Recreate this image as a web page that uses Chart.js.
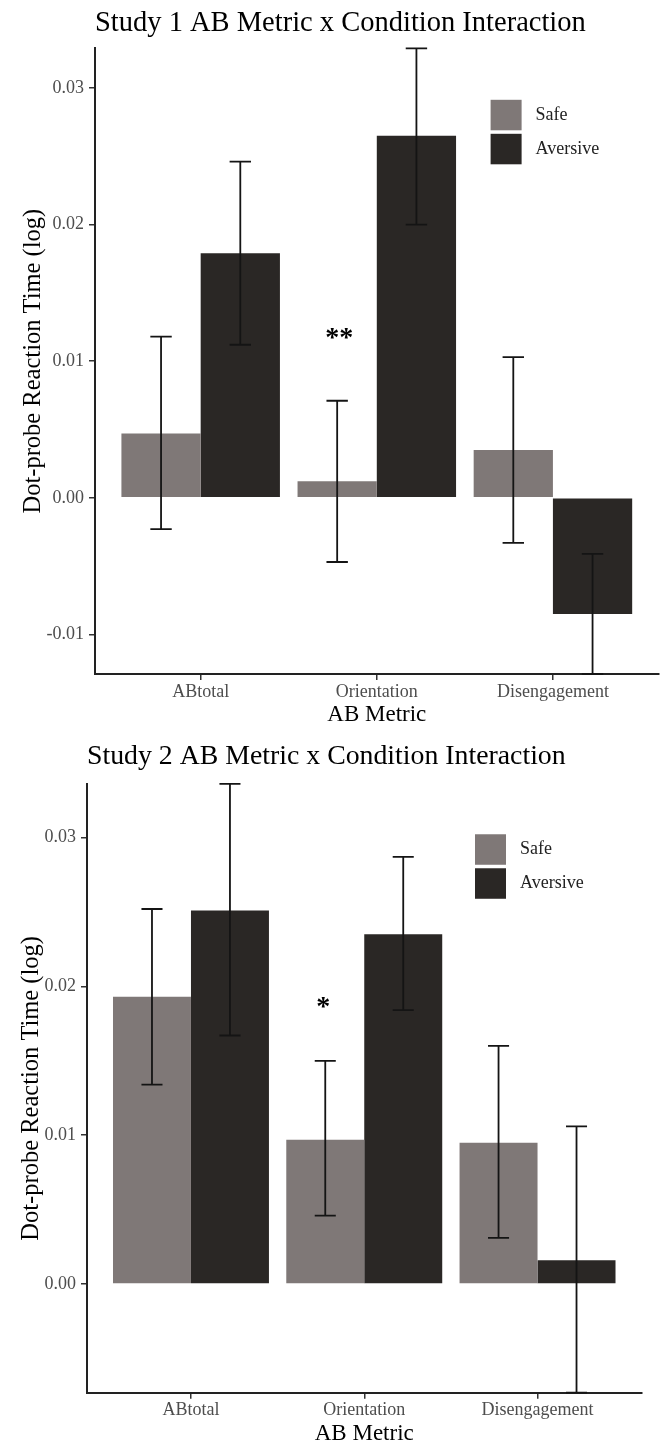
<!DOCTYPE html>
<html>
<head>
<meta charset="utf-8">
<script src="https://cdn.jsdelivr.net/npm/chart.js@4.4.1/dist/chart.umd.min.js"></script>
<style>
html, body { margin: 0; padding: 0; background: #ffffff; width: 666px; height: 1443px; overflow: hidden; }
canvas { position: absolute; left: 0; }
#c1 { top: 0px; }
#c2 { top: 720px; }
</style>
</head>
<body>
<canvas id="c1" width="666" height="735"></canvas>
<canvas id="c2" width="666" height="735"></canvas>
<script>
// ---------- data ----------
const categories = ['ABtotal', 'Orientation', 'Disengagement'];
const seriesNames = ['Safe', 'Aversive'];
const yTickValues = [-0.01, 0.00, 0.01, 0.02, 0.03];

const study1Title = 'Study 1 AB Metric x Condition Interaction';
const study1Safe = [0.0047, 0.0012, 0.0035];
const study1Aversive = [0.0179, 0.0265, -0.0085];
const study1SafeLow = [-0.0023, -0.0047, -0.0033];
const study1SafeHigh = [0.0118, 0.0071, 0.0103];
const study1AversiveLow = [0.0112, 0.0200, -0.0129];
const study1AversiveHigh = [0.0246, 0.0329, -0.0041];
const study1Sig = ['', '**', ''];
const study1SigY = [null, 0.0120, null];

const study2Title = 'Study 2 AB Metric x Condition Interaction';
const study2Safe = [0.0193, 0.0097, 0.0095];
const study2Aversive = [0.0251, 0.0235, 0.0016];
const study2SafeLow = [0.0134, 0.0046, 0.0031];
const study2SafeHigh = [0.0252, 0.0150, 0.0160];
const study2AversiveLow = [0.0167, 0.0184, -0.0073];
const study2AversiveHigh = [0.0336, 0.0287, 0.0106];
const study2Sig = ['', '*', ''];
const study2SigY = [null, 0.0189, null];

const xAxisTitle = 'AB Metric';
const yAxisTitle = 'Dot-probe Reaction Time (log)';

// ---------- styles ----------
const SERIF = '"Liberation Serif", "Times New Roman", serif';
const SAFE_COLOR = '#7f7877';
const AVERSIVE_COLOR = '#2a2725';
const INK = '#141414';
const TICK_TEXT = '#4d4d4d';

function buildChart(id, c) {
  const yMin = Math.min(...c.safeLow, ...c.aversiveLow);
  const yMax = Math.max(...c.safeHigh, ...c.aversiveHigh);
  const L = c.layout;

  const overlay = {
    id: 'overlay_' + id,
    afterDatasetsDraw(chart) {
      const ctx = chart.ctx;
      const ys = chart.scales.y;
      const ranges = [[c.safeLow, c.safeHigh], [c.aversiveLow, c.aversiveHigh]];
      ctx.save();
      ctx.strokeStyle = INK;
      ctx.lineWidth = 1.8;
      ranges.forEach((r, d) => {
        const meta = chart.getDatasetMeta(d);
        meta.data.forEach((bar, i) => {
          const x = bar.x;
          const half = bar.width * 0.135;
          const yl = ys.getPixelForValue(r[0][i]);
          const yh = ys.getPixelForValue(r[1][i]);
          ctx.beginPath();
          ctx.moveTo(x, yl); ctx.lineTo(x, yh);
          ctx.moveTo(x - half, yl); ctx.lineTo(x + half, yl);
          ctx.moveTo(x - half, yh); ctx.lineTo(x + half, yh);
          ctx.stroke();
        });
      });
      // significance markers (above the Safe bar of each category)
      const safeMeta = chart.getDatasetMeta(0);
      ctx.fillStyle = '#000';
      ctx.font = 'bold 28px ' + SERIF;
      ctx.textAlign = 'center';
      ctx.textBaseline = 'alphabetic';
      c.sig.forEach((s, i) => {
        if (!s) return;
        const m = ctx.measureText(s);
        const cy = ys.getPixelForValue(c.sigY[i]);
        const base = cy + (m.actualBoundingBoxAscent - m.actualBoundingBoxDescent) / 2;
        ctx.fillText(s, safeMeta.data[i].x + L.sigShift, base);
      });
      // legend inside plot area
      const area = chart.chartArea;
      const sx = area.right - L.legendRight;
      let sy = area.top + L.legendTop;
      const sw = 31, sh = 30.5, gap = 3.5;
      ctx.font = '18px ' + SERIF;
      ctx.textAlign = 'left';
      ctx.textBaseline = 'middle';
      chart.data.datasets.forEach((ds) => {
        ctx.fillStyle = ds.backgroundColor;
        ctx.fillRect(sx, sy, sw, sh);
        ctx.fillStyle = '#222';
        ctx.fillText(ds.label, sx + sw + 14, sy + sh / 2);
        sy += sh + gap;
      });
      ctx.restore();
    }
  };

  return new Chart(document.getElementById(id), {
    type: 'bar',
    data: {
      datasets: [
        { label: seriesNames[0], backgroundColor: SAFE_COLOR, borderWidth: 0,
          data: categories.map((k, i) => ({ x: i, y: c.safe[i] })) },
        { label: seriesNames[1], backgroundColor: AVERSIVE_COLOR, borderWidth: 0,
          data: categories.map((k, i) => ({ x: i, y: c.aversive[i] })) }
      ]
    },
    options: {
      responsive: false,
      animation: false,
      layout: { padding: { left: 0, right: L.padRight, top: 0, bottom: 0 } },
      datasets: { bar: { categoryPercentage: 0.9, barPercentage: 1.0 } },
      plugins: {
        legend: { display: false },
        tooltip: { enabled: false },
        title: {
          display: true, text: c.title, align: 'start', fullSize: false,
          color: '#000', font: { family: SERIF, size: L.titleSize, weight: 'normal', lineHeight: 1.2 },
          padding: { top: L.titleTop, bottom: L.titleBottom }
        }
      },
      scales: {
        x: {
          type: 'linear', min: -0.6, max: categories.length - 0.4, offset: false,
          afterBuildTicks: (s) => { s.ticks = categories.map((k, i) => ({ value: i })); },
          afterFit: (s) => { s.height = L.xHeight; },
          ticks: { autoSkip: false, maxRotation: 0, padding: 1, color: TICK_TEXT,
                   font: { family: SERIF, size: 18, lineHeight: 1.2 },
                   callback: (v) => categories[v] !== undefined ? categories[v] : '' },
          grid: { offset: false, drawOnChartArea: false, drawTicks: true, tickLength: 6,
                  tickColor: '#333', lineWidth: 1.5 },
          border: { display: true, color: '#222', width: 2 },
          title: { display: true, text: xAxisTitle, color: '#000',
                   font: { family: SERIF, size: 23, lineHeight: 1.2 },
                   padding: { top: 0, bottom: L.xTitleBottom } }
        },
        y: {
          type: 'linear', min: yMin, max: yMax,
          afterBuildTicks: (s) => { s.ticks = yTickValues.filter(v => v >= s.min && v <= s.max).map(v => ({ value: v })); },
          afterFit: (s) => { s.width = L.yWidth; },
          ticks: { padding: 5, color: TICK_TEXT, font: { family: SERIF, size: 18, lineHeight: 1.2 },
                   callback: (v) => Number(v).toFixed(2) },
          grid: { drawOnChartArea: false, drawTicks: true, tickLength: 6, tickColor: '#333', lineWidth: 1.5 },
          border: { display: true, color: '#222', width: 2 },
          title: { display: true, text: yAxisTitle, color: '#000',
                   font: { family: SERIF, size: 24.5, lineHeight: 1.2 },
                   padding: { top: L.yTitleLeft, bottom: 0 } }
        }
      }
    },
    plugins: [overlay]
  });
}

buildChart('c1', {
  title: study1Title,
  safe: study1Safe, aversive: study1Aversive,
  safeLow: study1SafeLow, safeHigh: study1SafeHigh,
  aversiveLow: study1AversiveLow, aversiveHigh: study1AversiveHigh,
  sig: study1Sig, sigY: study1SigY,
  layout: { padRight: 7.4, titleSize: 28.5, titleTop: 6.9, titleBottom: 7.2, xHeight: 61, xTitleBottom: 6.5,
            yWidth: 95, yTitleLeft: 19.3, legendRight: 168, legendTop: 51.5, sigShift: 2 }
});

buildChart('c2', {
  title: study2Title,
  safe: study2Safe, aversive: study2Aversive,
  safeLow: study2SafeLow, safeHigh: study2SafeHigh,
  aversiveLow: study2AversiveLow, aversiveHigh: study2AversiveHigh,
  sig: study2Sig, sigY: study2SigY,
  layout: { padRight: 24.5, titleSize: 27.8, titleTop: 20.3, titleBottom: 10.3, xHeight: 62.3, xTitleBottom: 7.2,
            yWidth: 87, yTitleLeft: 17.3, legendRight: 166.5, legendTop: 50.3, sigShift: -2 }
});
</script>
</body>
</html>
